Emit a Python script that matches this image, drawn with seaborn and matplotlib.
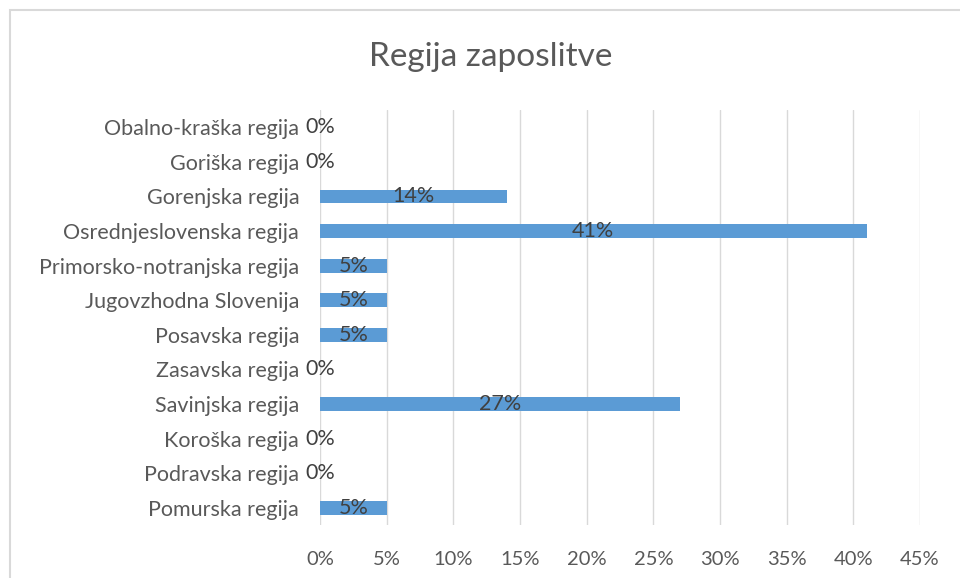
import matplotlib
matplotlib.use("Agg")
import matplotlib.pyplot as plt
import matplotlib.patches as mpatches
import seaborn as sns
import pandas as pd

# data (top to bottom as shown)
regions = [
    "Obalno-kraška regija",
    "Goriška regija",
    "Gorenjska regija",
    "Osrednjeslovenska regija",
    "Primorsko-notranjska regija",
    "Jugovzhodna Slovenija",
    "Posavska regija",
    "Zasavska regija",
    "Savinjska regija",
    "Koroška regija",
    "Podravska regija",
    "Pomurska regija",
]
shares = [0, 0, 14, 41, 5, 5, 5, 0, 27, 0, 0, 5]
x_ticks = [0, 5, 10, 15, 20, 25, 30, 35, 40, 45]

df = pd.DataFrame({"Regija": regions, "Delez": shares})

sns.set_style("white")
plt.rcParams["font.family"] = ["Lato", "DejaVu Sans"]

text_col = "#595959"
fig = plt.figure(figsize=(9.6, 5.78), dpi=100)
ax = fig.add_axes([320 / 960, 1 - 525 / 578, 600 / 960, 415 / 578])

sns.barplot(data=df, x="Delez", y="Regija", orient="h", color="#5B9BD5",
            width=0.4, linewidth=0, saturation=1, ax=ax)

ax.bar_label(ax.containers[0], labels=[f"{v}%" for v in shares],
             label_type="center", fontsize=15.5, color="#404040",
             padding=0)

ax.set_xlim(0, 45)
ax.set_xticks(x_ticks)
ax.set_xticklabels([f"{t}%" for t in x_ticks])
ax.xaxis.grid(True, color="#D9D9D9", linewidth=1)
ax.set_axisbelow(True)
ax.set_xlabel("")
ax.set_ylabel("")
for s in ax.spines.values():
    s.set_visible(False)
ax.tick_params(axis="both", length=0, labelcolor=text_col)
ax.tick_params(axis="y", pad=15, labelsize=15.5)
ax.tick_params(axis="x", pad=19, labelsize=14.5)

fig.text(491 / 960, 1 - 57 / 578, "Regija zaposlitve", ha="center",
         va="center", fontsize=24, color=text_col)

# chart border
fig.patches.append(mpatches.Rectangle((10 / 960, -0.1), 1.2, 1.1 - 10 / 578,
                                      transform=fig.transFigure, fill=False,
                                      edgecolor="#D9D9D9", linewidth=1.5))

fig.savefig("out.png", dpi=100)
